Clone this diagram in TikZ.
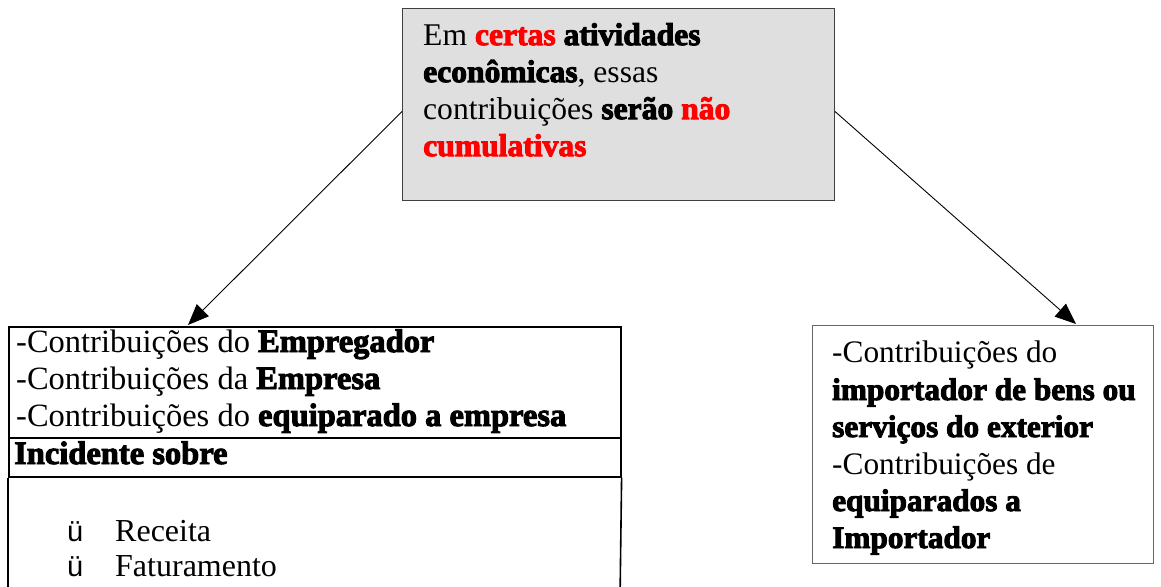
\documentclass[tikz,border=0pt]{standalone}
\usepackage{fontspec}
\setmainfont{Liberation Serif}[BoldFont={Liberation Serif Bold},BoldFeatures={FakeBold=3}]
\newfontfamily\bulfont{Liberation Sans}
\usetikzlibrary{arrows.meta}
\definecolor{boxgray}{HTML}{DFDFDF}
\definecolor{hred}{HTML}{FF0000}
\tikzset{
  arr/.style={line width=0.9pt,-{Triangle[length=21pt,width=17pt]}},
  topbox/.style={draw=black!75,line width=1pt,fill=boxgray,anchor=north west,minimum width=432pt,minimum height=192pt},
  lbox/.style={draw=black,line width=1.6pt,anchor=north west,minimum width=612pt},
  rbox/.style={draw=black!60,line width=1.2pt,anchor=north west,minimum width=341pt,minimum height=238pt},
  txt/.style={anchor=base west,inner sep=0pt,font=\fontsize{32.5}{37}\selectfont},
  bul/.style={anchor=base west,inner sep=0pt,font=\bulfont\fontsize{29}{32}\selectfont},
  rtxt/.style={anchor=base west,inner sep=0pt,font=\fontsize{31.3}{37}\selectfont},
  ttxt/.style={anchor=north west,inner sep=0pt,align=left,font=\fontsize{31.6}{37}\selectfont},
}
\begin{document}
\begin{tikzpicture}[x=1pt,y=-1pt]
\useasboundingbox (0,0) rectangle (1161,586);
% top box
\node[topbox] (top) at (402,8) {};
\node[ttxt] (toptext) at (423,23) {Em \textbf{\textcolor{hred}{certas}} \textbf{atividades}\\\textbf{econômicas}, essas\\contribuições \textbf{serão} \textbf{\textcolor{hred}{não}}\\\textbf{\textcolor{hred}{cumulativas}}};
% left box
\node[lbox,minimum height=111pt] (l1) at (8,326) {};
\node[lbox,minimum height=39pt] (l2) at (8,437) {};
\coordinate (lbl) at (8,600);
\coordinate (lbr) at (620,600);
\draw[draw=black,line width=1.6pt] (l2.south west) -- (lbl);
\draw[draw=black,line width=1.6pt] (l2.south east) -- (lbr);
\node[txt] (c1) at (16,352) {-Contribuições do \textbf{Empregador}};
\node[txt] (c2) at (16,389) {-Contribuições da \textbf{Empresa}};
\node[txt] (c3) at (16,426) {-Contribuições do \textbf{equiparado a empresa}};
\node[txt] (inc) at (14,464) {\textbf{Incidente sobre}};
\node[bul] (b1) at (67,541) {ü};
\node[txt,font=\fontsize{32}{37}\selectfont] (rec) at (115,541) {Receita};
\node[bul] (b2) at (67,576) {ü};
\node[txt,font=\fontsize{32}{37}\selectfont] (fat) at (115,576) {Faturamento};
% right box
\node[rbox] (rb) at (812,325) {};
\node[rtxt] (r1) at (832,362) {-Contribuições do};
\node[rtxt] (r2) at (832,400) {\textbf{importador de bens ou}};
\node[rtxt] (r3) at (832,437) {\textbf{serviços do exterior}};
\node[rtxt] (r4) at (832,474) {-Contribuições de};
\node[rtxt] (r5) at (832,511) {\textbf{equiparados a}};
\node[rtxt] (r6) at (832,548) {\textbf{Importador}};
% arrows
\coordinate (la) at (188,325);
\coordinate (ra) at (1076,324);
\draw[arr] ([yshift=-7pt]top.west) -- (la);
\draw[arr] ([yshift=-7pt]top.east) -- (ra);
\end{tikzpicture}
\end{document}
